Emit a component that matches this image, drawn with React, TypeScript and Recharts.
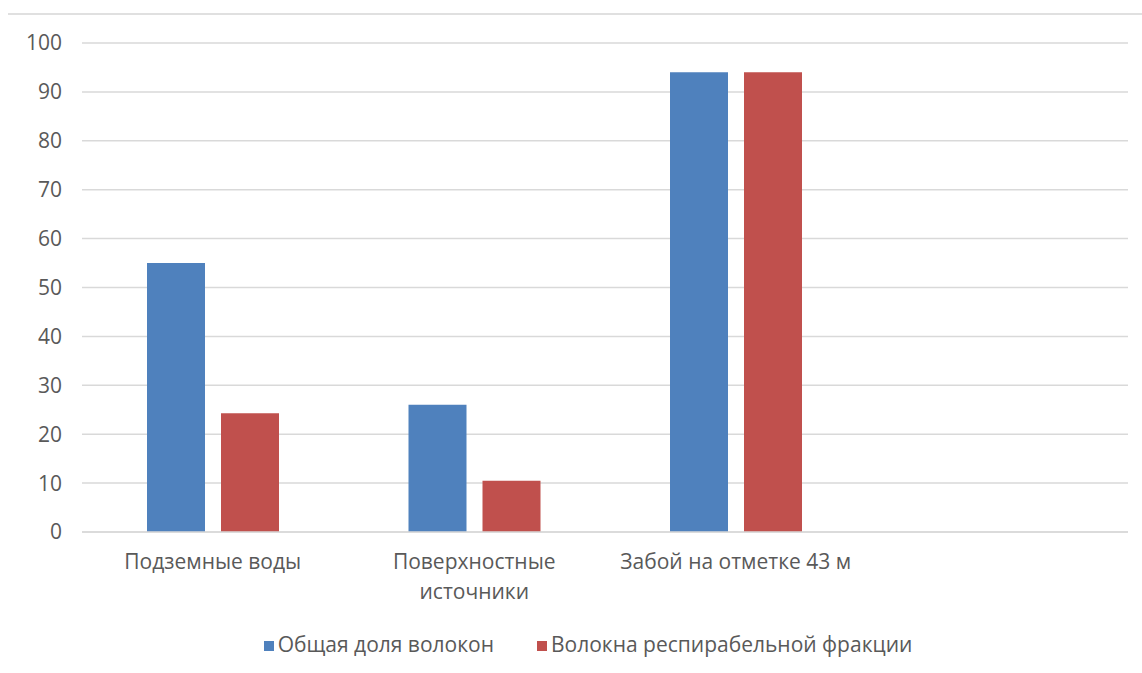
import React from 'react';
import { BarChart, Bar, XAxis, YAxis, CartesianGrid, Legend, Text } from 'recharts';

// categories (the 4th slot is empty in the source chart)
const categories = ['Подземные воды', 'Поверхностные источники', 'Забой на отметке 43 м', ''];
const totalFibers = [55, 26, 94, null];
const respirableFibers = [24.3, 10.5, 94, null];
const yTicks = [0, 10, 20, 30, 40, 50, 60, 70, 80, 90, 100];

const data = categories.map((name, i) => ({
  name,
  total: totalFibers[i],
  respirable: respirableFibers[i],
}));

const FONT = '"Open Sans", sans-serif';
const GREY = '#595959';

const CategoryTick = (props: any) => {
  const { x, y, payload } = props;
  return (
    <Text
      x={x}
      y={y}
      width={165}
      textAnchor="middle"
      verticalAnchor="start"
      lineHeight={30}
      fill={GREY}
      fontSize={21}
      fontFamily={FONT}
    >
      {payload.value}
    </Text>
  );
};

export default function App() {
  return (
    <div style={{ position: 'absolute', left: 0, top: 0, width: 1142, height: 673, background: '#fff' }}>
      <div style={{ position: 'absolute', left: 8, right: 0, top: 13, borderTop: '2px solid #e0e0e0' }} />
      <BarChart
        width={1142}
        height={673}
        data={data}
        margin={{ top: 43, right: 14, left: 0, bottom: 15 }}
        barGap={16}
        barSize={58}
      >
        <CartesianGrid vertical={false} stroke="#d9d9d9" strokeWidth={1.5} />
        <XAxis
          dataKey="name"
          axisLine={{ stroke: '#d9d9d9', strokeWidth: 1.5 }}
          tickLine={false}
          tick={<CategoryTick />}
          tickMargin={16}
          height={98}
          interval={0}
        />
        <YAxis
          domain={[0, 100]}
          ticks={yTicks}
          axisLine={false}
          tickLine={false}
          width={82}
          tickMargin={14}
          tick={{ fill: GREY, fontSize: 21, fontFamily: FONT }}
        />
        <Legend
          verticalAlign="bottom"
          iconType="square"
          iconSize={10}
          itemSorter={(item: any) => (item.dataKey === 'total' ? 0 : 1)}
          wrapperStyle={{ fontFamily: FONT, fontSize: 21, color: GREY, left: 29 }}
          formatter={(value: string, entry: any) => (
            <span style={{ color: GREY, marginRight: entry.dataKey === 'total' ? 33 : 0 }}>{value}</span>
          )}
        />
        <Bar dataKey="total" name="Общая доля волокон" fill="#4f81bd" isAnimationActive={false} />
        <Bar dataKey="respirable" name="Волокна респирабельной фракции" fill="#c0504d" isAnimationActive={false} />
      </BarChart>
    </div>
  );
}
